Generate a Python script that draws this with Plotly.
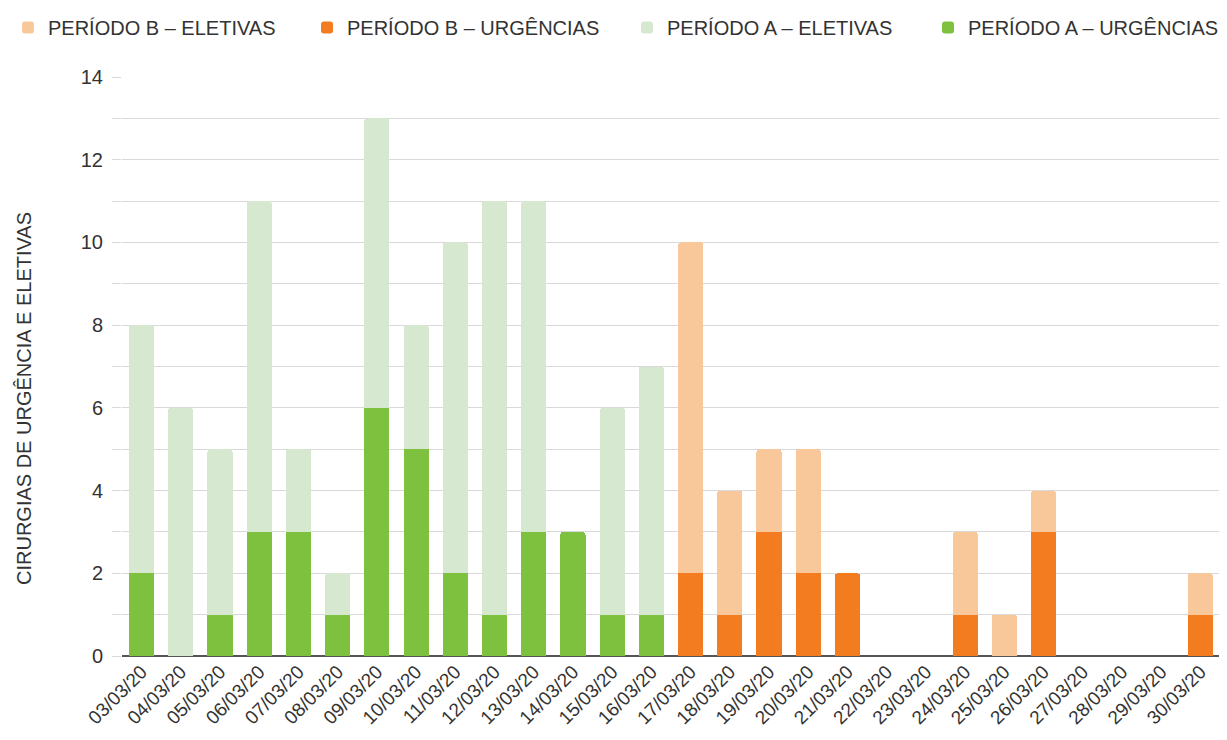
import plotly.graph_objects as go

dates = ["03/03/20", "04/03/20", "05/03/20", "06/03/20", "07/03/20", "08/03/20", "09/03/20",
         "10/03/20", "11/03/20", "12/03/20", "13/03/20", "14/03/20", "15/03/20", "16/03/20",
         "17/03/20", "18/03/20", "19/03/20", "20/03/20", "21/03/20", "22/03/20", "23/03/20",
         "24/03/20", "25/03/20", "26/03/20", "27/03/20", "28/03/20", "29/03/20", "30/03/20"]

# Period A: 03/03 - 16/03
a_dates = dates[:14]
a_urgencias = [2, 0, 1, 3, 3, 1, 6, 5, 2, 1, 3, 3, 1, 1]
a_eletivas = [6, 6, 4, 8, 2, 1, 7, 3, 8, 10, 8, 0, 5, 6]

# Period B: 17/03 - 30/03
b_dates = dates[14:]
b_urgencias = [2, 1, 3, 2, 2, 0, 0, 1, 0, 3, 0, 0, 0, 1]
b_eletivas = [8, 3, 2, 3, 0, 0, 0, 2, 1, 1, 0, 0, 0, 1]

names = ["PERÍODO B – ELETIVAS", "PERÍODO B – URGÊNCIAS", "PERÍODO A – ELETIVAS", "PERÍODO A – URGÊNCIAS"]
y_title = "CIRURGIAS DE URGÊNCIA E ELETIVAS"
colors = {"a_urg": "#7DC13E", "a_el": "#D6E9D0", "b_urg": "#F37B20", "b_el": "#F8C89B"}

W, H = 1219, 732
txt = "#333333"

fig = go.Figure()
fig.add_trace(go.Bar(x=a_dates, y=a_urgencias, name=names[3], marker_color=colors["a_urg"],
                     legend="legend4", showlegend=True))
fig.add_trace(go.Bar(x=a_dates, y=a_eletivas, name=names[2], marker_color=colors["a_el"],
                     legend="legend3", showlegend=True))
fig.add_trace(go.Bar(x=b_dates, y=b_urgencias, name=names[1], marker_color=colors["b_urg"],
                     legend="legend2", showlegend=True))
fig.add_trace(go.Bar(x=b_dates, y=b_eletivas, name=names[0], marker_color=colors["b_el"],
                     legend="legend", showlegend=True))

fig.update_traces(marker_line_width=0)


def leg(px):
    return dict(orientation="h", x=px / W, xref="container", xanchor="left",
                y=1, yref="container", yanchor="top",
                font=dict(size=20, color=txt), bgcolor="rgba(0,0,0,0)", visible=True)


fig.update_layout(
    width=W, height=H, showlegend=True,
    barmode="stack", bargap=0.36, barcornerradius=3,
    plot_bgcolor="white", paper_bgcolor="white",
    font=dict(family="Liberation Sans, Arial, sans-serif", color=txt, size=18),
    margin=dict(l=114, r=7, t=69, b=84),
    legend=leg(0), legend2=leg(299), legend3=leg(619), legend4=leg(920),
    xaxis=dict(categoryorder="array", categoryarray=dates, tickangle=-45,
               tickfont=dict(size=19, color=txt), showgrid=False, ticks="",
               showline=False, automargin=False),
    yaxis=dict(range=[0, 14], dtick=2, tick0=0, gridcolor="#D9D9D9", gridwidth=1,
               ticks="outside", ticklen=9, tickcolor="#D9D9D9",
               minor=dict(dtick=1, showgrid=True, gridcolor="#D9D9D9", ticks="outside",
                          ticklen=9, tickcolor="#D9D9D9"),
               zeroline=True, zerolinecolor="#555555", zerolinewidth=2,
               tickfont=dict(size=20, color=txt), ticklabelstandoff=5,
               showline=False, automargin=False),
    annotations=[dict(text=y_title, textangle=-90, showarrow=False,
                      xref="paper", x=0, xanchor="center", xshift=-98,
                      yref="paper", y=(648 - 391) / (648 - 69), yanchor="middle",
                      font=dict(size=20, color=txt))],
)

fig.write_html("out.html")
